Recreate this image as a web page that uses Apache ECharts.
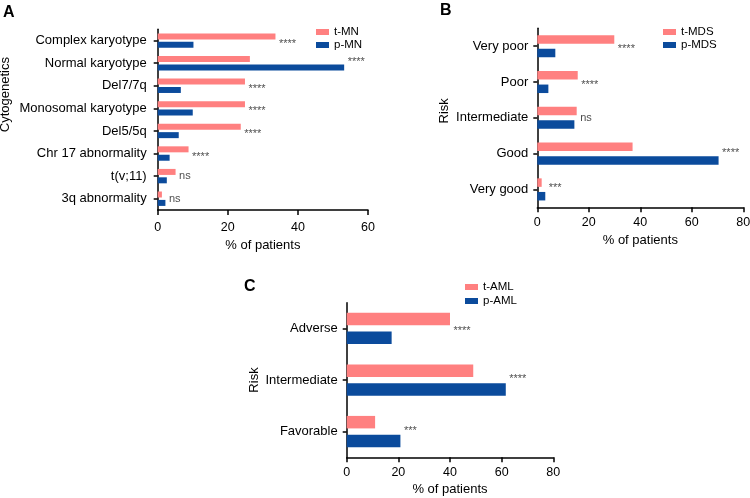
<!DOCTYPE html>
<html><head><meta charset="utf-8">
<script src="https://cdn.jsdelivr.net/npm/echarts@6/dist/echarts.min.js"></script>
<style>html,body{margin:0;padding:0;background:#fff}#c{width:750px;height:498px}</style>
</head><body><div id="c"></div>
<script>
// Panel A
const catA = ['Complex karyotype','Normal karyotype','Del7/7q','Monosomal karyotype','Del5/5q','Chr 17 abnormality','t(v;11)','3q abnormality'];
const tMN = [33.6, 26.3, 24.9, 24.9, 23.7, 8.8, 5.1, 1.2];
const pMN = [10.2, 53.2, 6.6, 10.0, 6.0, 3.4, 2.6, 2.2];
const sigA = ['****','****','****','****','****','****','ns','ns'];
// Panel B
const catB = ['Very poor','Poor','Intermediate','Good','Very good'];
const tMDS = [29.9, 15.7, 15.3, 37.0, 1.7];
const pMDS = [7.0, 4.3, 14.4, 70.4, 3.1];
const sigB = ['****','****','ns','****','***'];
// Panel C
const catC = ['Adverse','Intermediate','Favorable'];
const tAML = [40.0, 49.0, 11.0];
const pAML = [17.4, 61.6, 20.8];
const sigC = ['****','****','***'];
const ticksA = [0, 20, 40, 60];
const ticksB = [0, 20, 40, 60, 80];
const ticksC = [0, 20, 40, 60, 80];

const FONT = '"Liberation Sans", Arial, Helvetica, sans-serif';
const PINK = '#FF8080', BLUE = '#0B4B9C';
const chart = echarts.init(document.getElementById('c'), null, {renderer:'canvas'});

function xAx(idx, ticks, margin, gap){
  return {gridIndex: idx, type:'value', min: ticks[0], max: ticks[ticks.length-1], interval: ticks[1]-ticks[0],
    name:'% of patients', nameLocation:'middle', nameGap: gap,
    nameTextStyle:{color:'#000', fontSize:13, fontFamily:FONT},
    axisLine:{show:true, lineStyle:{color:'#000', width:1.5}},
    axisTick:{show:true, length:5, lineStyle:{color:'#000', width:1.5}},
    axisLabel:{color:'#000', fontSize:12.5, fontFamily:FONT, margin: margin},
    splitLine:{show:false}};
}
function yAx(idx, cats, name, gap, margin, shift){
  return {gridIndex: idx, type:'category', data: cats, inverse:true,
    name: name, nameLocation:'middle', nameGap: gap,
    nameTextStyle:{color:'#000', fontSize:13, fontFamily:FONT, padding:[0,0,0,shift]},
    axisLine:{show:true, lineStyle:{color:'#000', width:1.5}},
    axisTick:{show:true, alignWithLabel:true, length:4, lineStyle:{color:'#000', width:1.5}},
    axisLabel:{color:'#000', fontSize:13, fontFamily:FONT, margin:margin}};
}
function bars(idx, nameT, nameP, tv, pv, bw, gap){
  return [
    {type:'bar', name:nameT, xAxisIndex:idx, yAxisIndex:idx, data:tv, barWidth:bw, barGap:gap, itemStyle:{color:PINK}},
    {type:'bar', name:nameP, xAxisIndex:idx, yAxisIndex:idx, data:pv, barWidth:bw, barGap:gap, itemStyle:{color:BLUE}}
  ];
}
function sig(idx, cats, tv, pv, s){
  return {type:'scatter', xAxisIndex:idx, yAxisIndex:idx, symbolSize:1, itemStyle:{color:'rgba(0,0,0,0)'}, silent:true,
    data: cats.map((c,i)=>{
      const star = s[i].indexOf('*')>=0;
      const dy = star ? (pv[i] > tv[i] ? -1 : 3) : 0;
      return {value:[Math.max(tv[i],pv[i]), c],
        label:{show:true, formatter:s[i], position:'right', distance:3, offset:[0, dy],
          color:'#1a1a1a', fontSize:11, fontFamily:FONT}};
    })};
}
function legend(names, left, top, gap){
  return {data:names, orient:'vertical', left:left, top:top, itemWidth:13, itemHeight:6, itemGap:gap,
    icon:'rect', textStyle:{color:'#000', fontSize:11.5, fontFamily:FONT}, selectedMode:false};
}

const option = {
  animation:false,
  textStyle:{fontFamily:FONT},
  grid:[
    {left:157.7, right:382, top:29.3, bottom:288, containLabel:false, outerBoundsMode:'none'},
    {left:537.3, right:6.7, top:28.3, bottom:290.7, containLabel:false, outerBoundsMode:'none'},
    {left:346.7, right:196.7, top:302.7, bottom:40.7, containLabel:false, outerBoundsMode:'none'}
  ],
  xAxis:[xAx(0, ticksA, 11, 29), xAx(1, ticksB, 9, 27), xAx(2, ticksC, 9, 26)],
  yAxis:[yAx(0, catA, 'Cytogenetics', 146, 11, 50), yAx(1, catB, 'Risk', 86, 9, 14), yAx(2, catC, 'Risk', 86, 9, 0)],
  legend:[legend(['t-MN','p-MN'], 311, 21, 1), legend(['t-MDS','p-MDS'], 658, 21, 1), legend(['t-AML','p-AML'], 460, 276, 2)],
  graphic:[
    {type:'text', left:3, top:5, style:{text:'A', font:'bold 16px '+FONT, fill:'#000'}},
    {type:'text', left:440, top:3, style:{text:'B', font:'bold 16px '+FONT, fill:'#000'}},
    {type:'text', left:244, top:279, style:{text:'C', font:'bold 16px '+FONT, fill:'#000'}}
  ],
  series:[
    ...bars(0,'t-MN','p-MN',tMN,pMN,6,'40%'),
    ...bars(1,'t-MDS','p-MDS',tMDS,pMDS,8.5,'60%'),
    ...bars(2,'t-AML','p-AML',tAML,pAML,12.5,'50%'),
    sig(0,catA,tMN,pMN,sigA), sig(1,catB,tMDS,pMDS,sigB), sig(2,catC,tAML,pAML,sigC)
  ]
};
chart.setOption(option);
</script></body></html>
